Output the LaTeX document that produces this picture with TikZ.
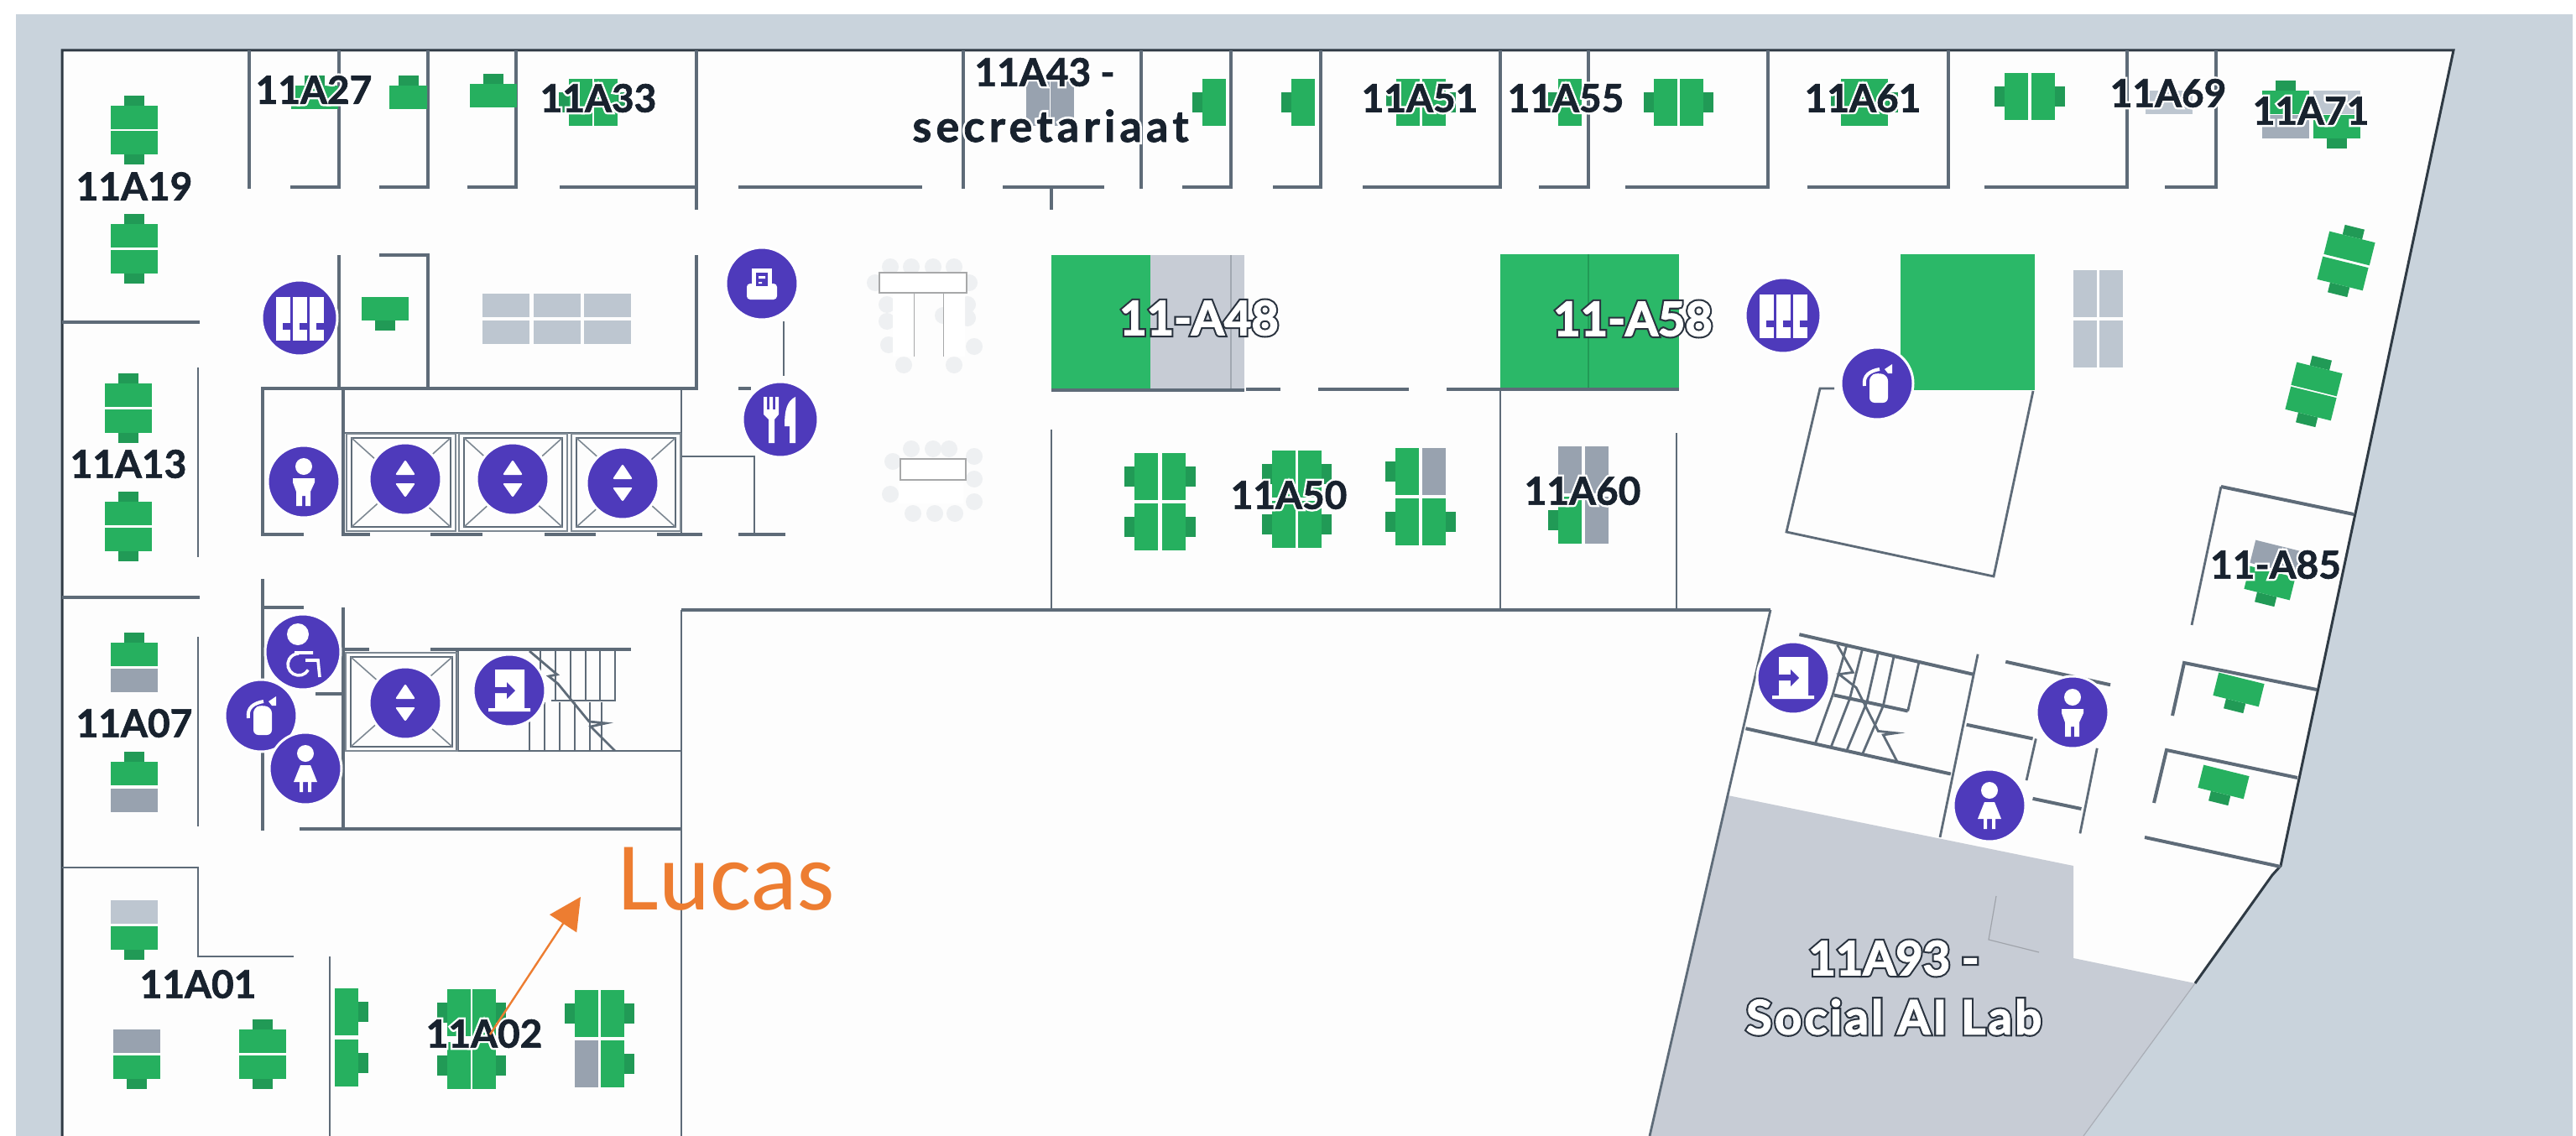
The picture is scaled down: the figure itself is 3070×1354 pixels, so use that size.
\documentclass[tikz,border=0pt]{standalone}
\usepackage{fontspec}
\usetikzlibrary{arrows.meta}
\setmainfont{Lato}
\newfontfamily\lucasfont{Carlito}
\definecolor{outergrey}{HTML}{C9D3DC}
\definecolor{labgrey}{HTML}{C7CCD5}
\definecolor{floorwhite}{HTML}{FDFDFD}
\definecolor{wallcol}{HTML}{5E6B78}
\definecolor{edgecol}{HTML}{2F3A44}
\definecolor{deskgreen}{HTML}{26B05F}
\definecolor{chairgreen}{HTML}{219A56}
\definecolor{roomgreen}{HTML}{2BB868}
\definecolor{midgrey}{HTML}{98A2AF}
\definecolor{lightgrey}{HTML}{BDC6D0}
\definecolor{iconpurple}{HTML}{4E3ABB}
\definecolor{textdark}{HTML}{18222E}
\definecolor{outlinedark}{HTML}{2A333F}
\definecolor{tablegrey}{HTML}{EEF0F2}
\definecolor{orangeline}{HTML}{ED7D31}
\newcommand{\halotxt}[1]{\leavevmode\rlap{\addfontfeature{FakeBold=12}\color{white}#1}{\addfontfeature{FakeBold=1.5}#1}}
\newcommand{\outltxt}[1]{\leavevmode\rlap{\addfontfeature{FakeBold=10}\color{outlinedark}#1}{\addfontfeature{FakeBold=2.5}\color{white}#1}}
\newcommand{\desk}[3]{\begin{scope}[shift={(#1,#2)},rotate=#3]
  \fill[chairgreen] (-12,-26) rectangle (12,-14);
  \fill[deskgreen] (-28,-14) rectangle (28,14);\end{scope}}
\newcommand{\blank}[4]{\begin{scope}[shift={(#1,#2)},rotate=#3]
  \fill[#4] (-28,-14) rectangle (28,14);\end{scope}}
\newcommand{\disc}[3]{\fill[iconpurple,draw=white,line width=1.5pt] (#1,#2) circle (#3);}
\newcommand{\liftbox}[4]{%
  \draw[liftthin] (#1,#3) rectangle (#2,#4);
  \draw[wallthin] (#1+6,#3+5) rectangle (#2-6,#4-5);
  \draw[liftthin] (#1+6,#3+5) -- (#2-6,#4-5) (#2-6,#3+5) -- (#1+6,#4-5);}
\newcommand{\iconlift}[2]{\disc{#1}{#2}{43}\begin{scope}[shift={(#1,#2)}]
  \fill[white,rounded corners=1pt] (0,-23)--(12,-5)--(-12,-5)--cycle (0,22)--(12,5)--(-12,5)--cycle;\end{scope}}
\newcommand{\iconlock}[2]{\disc{#1}{#2}{45}\begin{scope}[shift={(#1,#2)}]
  \foreach \cx in {-28,-8,12}{\fill[white] (\cx,-25) rectangle (\cx+17,27);
    \fill[iconpurple] (\cx+8,6) rectangle (\cx+17,14);}\end{scope}}
\newcommand{\iconman}[2]{\disc{#1}{#2}{43}\begin{scope}[shift={(#1,#2)}]
  \fill[white] (0,-18) circle (10);
  \fill[white] (-13,-4)--(13,-4)--(13,1)--(8,12)--(8,29)--(2,29)--(2,17)--(-2,17)--(-2,29)--(-9,29)--(-9,12)--(-13,1)--cycle;\end{scope}}
\newcommand{\iconwoman}[2]{\disc{#1}{#2}{43}\begin{scope}[shift={(#1,#2)}]
  \fill[white] (0,-18) circle (10);
  \fill[white] (-6,-4)--(6,-4)--(14,16)--(7,16)--(7,28)--(3,28)--(3,16)--(-3,16)--(-3,28)--(-7,28)--(-7,16)--(-14,16)--cycle;\end{scope}}
\newcommand{\iconfire}[2]{\disc{#1}{#2}{43}\begin{scope}[shift={(#1,#2)}]
  \fill[white,rounded corners=3pt] (-9,23) -- (-9,-9) -- (1,-13) -- (13,-9) -- (13,23) -- cycle;
  \draw[white,line width=2pt] (-15,3) .. controls (-17,-10) and (-8,-15) .. (3,-17);
  \fill[white] (9,-17)--(18,-23)--(18,-12)--(13,-12)--cycle;\end{scope}}
\newcommand{\iconwheel}[2]{\disc{#1}{#2}{45}\begin{scope}[shift={(#1,#2)}]
  \fill[white] (-6,-21) circle (13);
  \draw[white,line width=1.8pt] (6.3,21.5) arc[start angle=30,end angle=270,radius=13];
  \draw[white,line width=1.8pt] (-10,1) -- (12,1) (3,10) -- (18,10) -- (20,30);\end{scope}}
\newcommand{\iconexit}[2]{\disc{#1}{#2}{43}\begin{scope}[shift={(#1,#2)}]
  \fill[white] (-17,-25) rectangle (18,21) (-25,21) rectangle (25,25);
  \fill[iconpurple] (-17,-4)--(-3,-4)--(-3,-10)--(7,0)--(-3,10)--(-3,3)--(-17,3)--cycle;\end{scope}}
\newcommand{\iconprint}[2]{\disc{#1}{#2}{43}\begin{scope}[shift={(#1,#2)}]
  \fill[white,rounded corners=2pt] (-18,0) rectangle (18,19);
  \fill[white] (-12,-18) rectangle (12,5);
  \fill[iconpurple] (-7,-13) rectangle (7,3);
  \fill[white] (-4,-9) rectangle (4,-6) (-4,-2) rectangle (0,0);\end{scope}}
\newcommand{\iconfood}[2]{\disc{#1}{#2}{45}\begin{scope}[shift={(#1,#2)}]
  \fill[white] (-20,-27)--(-16,-27)--(-16,-12)--(-13,-12)--(-13,-27)--(-9,-27)--(-9,-12)--(-6,-12)--(-6,-27)--(-2,-27)--(-2,-6)--(-7,0)--(-7,28)--(-14,28)--(-14,0)--(-20,-6)--cycle;
  \fill[white] (18,-27) .. controls (8,-22) and (5,-12) .. (5,8) -- (11,8) -- (11,28) -- (18,28) -- cycle;\end{scope}}
\tikzset{
  wall/.style={draw=wallcol,line width=2pt,line cap=butt},
  wallthin/.style={draw=wallcol,line width=1.4pt},
  liftthin/.style={draw=wallcol!80,line width=.8pt},
  edgeline/.style={draw=edgecol,line width=1.5pt},
  roomlabel/.style={text=textdark,font=\bfseries\fontsize{23}{28}\selectfont,inner sep=0pt},
  outlabel/.style={text=white,font=\bfseries\fontsize{28}{34}\selectfont,inner sep=0pt},
  tablechair/.style={fill=tablegrey},
  tabletop/.style={fill=white,draw=tablegrey!70!black,line width=.6pt},
}
\begin{document}
\begin{tikzpicture}[x=0.5pt,y=-0.5pt]
\useasboundingbox (0,0) rectangle (3070,1354);
\fill[white] (0,0) rectangle (3070,1354);
\fill[outergrey] (19,17) rectangle (3066,1354);
% floor
\fill[floorwhite] (74,60) -- (2924,60) -- (2718,1032) -- (2708,1043) -- (2616,1172) -- (2483,1354) -- (74,1354) -- cycle;
% lab
\fill[labgrey] (2059,948) -- (2471,1032) -- (2471,1142) -- (2616,1172) -- (2483,1354) -- (1966,1354) -- cycle;
\draw[labgrey!85!black,line width=.6pt] (2616,1172) -- (2483,1354);
\draw[labgrey!80!black,line width=.6pt] (2379,1068) -- (2370,1120) -- (2430,1135);
\draw[edgeline] (74,1354) -- (74,60) -- (2924,60) -- (2718,1032) -- (2708,1043) -- (2616,1172);
% green rooms
\fill[roomgreen] (1253,304) rectangle (1371,465);
\fill[labgrey] (1371,304) rectangle (1483,465);
\draw[lightgrey!85!black,line width=.6pt] (1467,304) -- (1467,465);
\fill[roomgreen] (1788,303) rectangle (2001,465);
\draw[chairgreen,line width=.8pt] (1893,303) -- (1893,465);
\fill[roomgreen] (2265,303) rectangle (2425,465);
% top row walls
\draw[wall] (297,60) -- (297,225);
\draw[wall] (404,60) -- (404,223) -- (346,223);
\draw[wall] (510,60) -- (510,223) -- (452,223);
\draw[wall] (615,60) -- (615,223) -- (557,223);
\draw[wall] (830,60) -- (830,250) (830,223) -- (667,223);
\draw[wall] (880,223) -- (1099,223);
\draw[wall] (1148,60) -- (1148,225);
\draw[wall] (1195,223) -- (1316,223) (1253,223) -- (1253,250);
\draw[wall] (1360,60) -- (1360,225);
\draw[wall] (1467,60) -- (1467,223) -- (1409,223);
\draw[wall] (1574,60) -- (1574,223) -- (1517,223);
\draw[wall] (1788,60) -- (1788,223) -- (1624,223);
\draw[wall] (1893,60) -- (1893,223) -- (1834,223);
\draw[wall] (2107,60) -- (2107,223) -- (1937,223);
\draw[wall] (2322,60) -- (2322,223) -- (2154,223);
\draw[wall] (2535,60) -- (2535,223) -- (2365,223);
\draw[wall] (2641,60) -- (2641,223) -- (2580,223);
% core walls
\draw[wall] (404,304) -- (404,463);
\draw[wall] (452,304) -- (510,304) -- (510,463);
\draw[wall] (830,304) -- (830,463) -- (313,463) -- (313,637) -- (362,637);
\draw[wall] (409,463) -- (409,637) -- (441,637);
\draw[wall] (513,637) -- (575,637) (649,637) -- (710,637) (783,637) -- (837,637) (880,637) -- (936,637);
\draw[wallthin] (812,463) -- (812,637) (409,516) -- (812,516);
\draw[wallthin] (812,544) -- (899,544) -- (899,637);
\draw[wall] (880,463) -- (895,463);
\draw[wallthin] (934,383) -- (934,448);
\draw[wall] (74,384) -- (238,384);
\draw[wallthin] (236,438) -- (236,664);
\draw[wall] (74,712) -- (238,712);
\draw[wallthin] (236,759) -- (236,985);
\draw[wall] (313,690) -- (313,990);
\draw[wall] (313,724) -- (362,724);
\draw[wall] (409,724) -- (409,988);
\draw[wall] (411,774) -- (440,774) (513,774) -- (752,774);
\draw[wall] (376,827) -- (408,827);
\draw[wallthin] (409,895) -- (812,895);
\draw[wall] (545,774) -- (545,895);
\draw[wall] (357,988) -- (812,988);
\draw[wallthin] (812,727) -- (812,1354);
\draw[wall] (812,727) -- (2110,727);
\draw[wallthin] (2110,727) -- (2059,948);
\draw[wallthin] (2059,948) -- (1966,1354);
\draw[wallthin] (74,1034) -- (236,1034) -- (236,1140) -- (350,1140);
\draw[wallthin] (393,1140) -- (393,1354);
\draw[wall] (1253,465) -- (1483,465) (1485,464) -- (1526,464) (1571,464) -- (1679,464) (1724,464) -- (1788,464) -- (2001,464);
\draw[wallthin] (1253,512) -- (1253,727) (1788,464) -- (1788,727) (1998,516) -- (1998,727);
% tilted room
\draw[wallthin] (2186,463) -- (2169,463) -- (2129,634) -- (2376,687) -- (2423,466);
% right rooms
\draw[wallthin] (2612,745) -- (2647,580);
\draw[wall] (2647,580) -- (2805,613);
\draw[wall] (2589,853) -- (2603,790) -- (2761,822);
\draw[wall] (2567,957) -- (2582,894) -- (2738,927);
\draw[wall] (2556,998) -- (2718,1033);
% lift shafts
\liftbox{413}{543}{517}{633}
\liftbox{547}{676}{517}{633}
\liftbox{681}{811}{517}{633}
\liftbox{412}{545}{778}{895}
% left stairs
\draw[wallthin] (657,835) -- (733,835) -- (733,776);
\foreach \sx in {644,662,680,698,715}{\draw[wallthin] (\sx,776) -- (\sx,835);}
\foreach \sx in {631,649,667,685,703,717}{\draw[wallthin] (\sx,837) -- (\sx,895);}
\draw[wallthin] (631,776) -- (664,804) -- (654,806) -- (665,815) -- (702,860) -- (722,862) -- (704,866) -- (733,895);
% right stairs
\begin{scope}[shift={(950pt,-325pt)},x=0.37594pt,y=-0.22594pt]
\draw[wall] (325,235) -- (600,340);
\draw[wallthin] (608,287) -- (548,770);
\draw[wall] (240,483) -- (565,603);
\draw[wall] (380,395) -- (497,437);
\draw[wallthin] (515,305) -- (497,437);
\foreach \ax/\ay/\bx/\by in {400/264/378/394,425/273/405/404,450/283/432/414,475/292/458/423}{\draw[wallthin] (\ax,\ay) -- (\bx,\by);}
\foreach \ax/\ay/\bx/\by in {378/394/350/524,405/404/375/533,432/414/400/542,458/423/425/551}{\draw[wallthin] (\ax,\ay) -- (\bx,\by);}
\draw[wallthin] (385,262) -- (410,335) -- (388,340) -- (415,375) -- (450,490) -- (478,495) -- (458,500) -- (480,570);
\draw[wall] (652,307) -- (818,368);
\draw[wall] (590,473) -- (695,510);
\draw[wallthin] (700,510) -- (685,620);
\draw[wallthin] (797,535) -- (770,760);
\draw[wall] (695,668) -- (772,695);
\end{scope}
% meeting tables
\foreach \cx/\cy in {1061/318,1086/318,1112/318,1137/318,1043/337,1155/337,1057/363,1057/383,1059/411,1077/435,1137/435,1161/413,1153/363,1153/379,1124/376,
  1086/535,1112/535,1131/535,1064/550,1161/544,1161/571,1061/589,1161/598,1088/612,1114/612,1138/612}{\fill[tablechair] (\cx,\cy) circle (10);}
\fill[white] (1064,349) rectangle (1089,425) (1124,349) rectangle (1150,425) (1071,576) rectangle (1148,600);
\draw[tabletop] (1048,325) rectangle (1152,349) (1073,547) rectangle (1151,572);
\draw[tablegrey!70!black,line width=.5pt] (1089,349) -- (1089,425) (1124,349) -- (1124,425);
% desks left column
\desk{160}{140}{0}\desk{160}{170}{180}
\desk{160}{281}{0}\desk{160}{312}{180}
\desk{153}{471}{0}\desk{153}{502}{180}
\desk{153}{612}{0}\desk{153}{643}{180}
\desk{160}{780}{0}\blank{160}{811}{0}{midgrey}
\desk{160}{922}{0}\blank{160}{954}{0}{midgrey}
\blank{160}{1087}{0}{lightgrey}\desk{160}{1118}{180}
\blank{163}{1241}{0}{midgrey}\desk{163}{1272}{180}
\desk{313}{1241}{0}\desk{313}{1272}{180}
% desks top row
\desk{375}{116}{0}
\begin{scope}\clip (464,80) rectangle (509,140);\desk{487}{116}{0}\end{scope}
\desk{588}{114}{0}
\desk{692}{122}{90}\desk{722}{122}{-90}
\blank{1237}{122}{90}{midgrey}\blank{1266}{122}{90}{midgrey}
\desk{1447}{122}{90}\desk{1553}{122}{90}
\desk{1678}{122}{90}\desk{1709}{122}{-90}
\desk{1871}{122}{90}
\desk{1985}{122}{90}\desk{2016}{122}{-90}
\desk{2208}{122}{90}\desk{2236}{122}{-90}
\desk{2403}{115}{90}\desk{2435}{115}{-90}
\blank{2585}{122}{0}{lightgrey}
\desk{2724}{122}{0}\blank{2724}{151}{0}{midgrey!70!lightgrey}
\blank{2785}{122}{0}{lightgrey}\desk{2785}{151}{180}
% middle desks
\desk{459}{368}{180}
\foreach \gx in {603,664,724}{\foreach \gy in {364,396}{\blank{\gx}{\gy}{0}{lightgrey}}}
% 11A02
\desk{413}{1206}{-90}\desk{413}{1267}{-90}
\desk{547}{1207}{90}\desk{577}{1207}{-90}\desk{547}{1270}{90}\desk{577}{1270}{-90}
\desk{699}{1208}{90}\desk{730}{1208}{-90}\blank{699}{1268}{90}{midgrey}\desk{730}{1268}{-90}
% 11A50
\desk{1366}{568}{90}\desk{1399}{568}{-90}\desk{1366}{628}{90}\desk{1399}{628}{-90}
\desk{1530}{565}{90}\desk{1561}{565}{-90}\desk{1530}{625}{90}\desk{1561}{625}{-90}
\desk{1677}{562}{90}\blank{1709}{562}{90}{midgrey}\desk{1677}{622}{90}\desk{1709}{622}{-90}
% 11A60
\blank{1871}{560}{90}{midgrey}\blank{1903}{560}{90}{midgrey}\desk{1871}{620}{90}\blank{1903}{620}{90}{midgrey}
% right side
\foreach \gx in {2485,2516}{\blank{\gx}{350}{90}{lightgrey}\blank{\gx}{410}{90}{lightgrey}}
\desk{2800}{296}{-14}\desk{2792}{326}{166}
\desk{2761}{452}{-14}\desk{2754}{481}{166}
\blank{2712}{664}{-14}{midgrey}\desk{2705}{695}{166}
\desk{2668}{822}{166}\desk{2650}{932}{166}
% icons
\iconlock{357}{379}\iconprint{908}{338}\iconfood{930}{500}
\iconman{362}{574}\iconlift{483}{571}\iconlift{611}{571}\iconlift{742}{576}
\iconwheel{361}{777}\iconfire{311}{853}\iconwoman{364}{916}\iconlift{483}{838}\iconexit{607}{823}
\iconlock{2125}{376}\iconfire{2237}{457}
\iconexit{2137}{808}\iconman{2470}{849}\iconwoman{2371}{960}
% labels
\node[roomlabel] (a27) at (374,107) {\halotxt{11A27}};
\node[roomlabel] (a33) at (713,117) {\halotxt{11A33}};
\node[roomlabel] (a19) at (160,222) {\halotxt{11A19}};
\node[roomlabel] (a13) at (153,553) {\halotxt{11A13}};
\node[roomlabel] (a07) at (160,862) {\halotxt{11A07}};
\node[roomlabel] (a01) at (236,1173) {\halotxt{11A01}};
\node[roomlabel] (a02) at (577,1232) {\halotxt{11A02}};
\node[roomlabel] (a43) at (1245,86) {\halotxt{11A43 -}};
\node[roomlabel,font=\bfseries\fontsize{26}{30}\selectfont\addfontfeature{LetterSpace=10}] (a43b) at (1252,150) {\halotxt{secretariaat}};
\node[roomlabel] (a51) at (1692,117) {\halotxt{11A51}};
\node[roomlabel] (a55) at (1866,117) {\halotxt{11A55}};
\node[roomlabel] (a50) at (1536,590) {\halotxt{11A50}};
\node[roomlabel] (a60) at (1886,585) {\halotxt{11A60}};
\node[roomlabel] (a61) at (2220,117) {\halotxt{11A61}};
\node[roomlabel] (a69) at (2584,111) {\halotxt{11A69}};
\node[roomlabel] (a71) at (2754,132) {\halotxt{11A71}};
\node[roomlabel] (a85) at (2712,673) {\halotxt{11-A85}};
\node[outlabel] (a48) at (1429,379) {\outltxt{11-A48}};
\node[outlabel] (a58) at (1946,380) {\outltxt{11-A58}};
\node[outlabel] (a93) at (2257,1142) {\outltxt{11A93 -}};
\node[outlabel,font=\bfseries\fontsize{28}{34}\selectfont\addfontfeature{LetterSpace=6}] (a93b) at (2257,1212) {\outltxt{Social AI Lab}};
\node[text=orangeline,inner sep=0pt,font=\lucasfont\fontsize{58}{60}\selectfont] (lucas) at (866,1048) {Lucas};
\coordinate (arrowstart) at (584,1233);
\coordinate (arrowtip) at (692,1069);
\draw[orangeline,line width=1.2pt,-{Triangle[length=19pt,width=19pt]}] (arrowstart) -- (arrowtip);
\end{tikzpicture}
\end{document}
